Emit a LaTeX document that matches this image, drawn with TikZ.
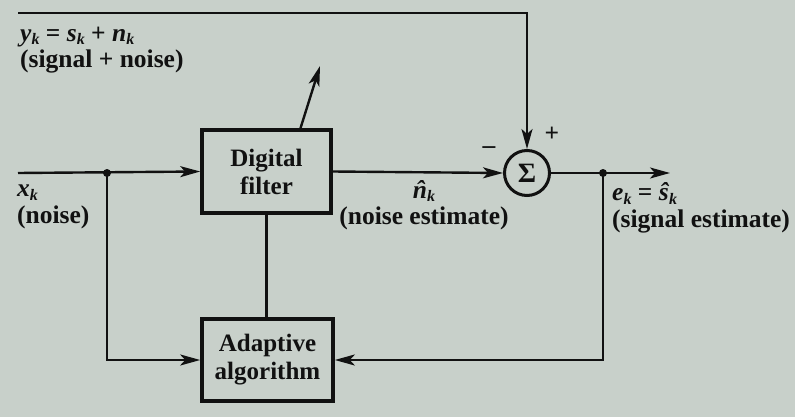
\documentclass[tikz,border=0pt]{standalone}
\usepackage{fontspec}
\setmainfont{Liberation Serif}
\usetikzlibrary{arrows.meta}
\definecolor{bg}{HTML}{C8D0CA}
\definecolor{ink}{HTML}{111111}
\newcommand\ksub{\raisebox{-0.3ex}{\fontsize{16}{16}\selectfont\textit{k}}}
\newcommand\hatn{{\itshape\ooalign{n\cr\hidewidth ˆ\hidewidth\cr}}}
\begin{document}
\begin{tikzpicture}[x=1pt,y=-1pt,
  font=\fontsize{25}{25}\selectfont\bfseries,
  every node/.style={text=ink},
  blockbox/.style={draw=ink,line width=3.6pt,inner sep=0pt,align=center,
    font=\fontsize{25}{28}\selectfont\bfseries},
  sumnode/.style={draw=ink,circle,line width=3pt,minimum size=45pt,inner sep=0pt,
    font=\fontsize{28}{28}\selectfont\bfseries},
  conn/.style={draw=ink,line width=2.4pt},
  arr/.style={conn,-{Stealth[length=20pt,width=11pt,inset=5pt]}},
  lbl/.style={inner sep=0pt,font=\fontsize{25.5}{26.5}\selectfont\bfseries},
  dotnode/.style={circle,fill=ink,inner sep=0pt,minimum size=8pt}]
\fill[bg] (0,0) rectangle (795,417);
\useasboundingbox (0,0) rectangle (795,417);

% blocks
\node[blockbox,minimum width=129pt,minimum height=83pt] (filter) at (266.5,171.5) {Digital\\filter};
\node[blockbox,minimum width=131pt,minimum height=82pt] (adapt) at (267.5,360) {Adaptive\\algorithm};
\node[sumnode] (sum) at (527,173) {Σ};

% coordinates
\coordinate (xin) at (18,173);
\coordinate (ytop) at (18,13);
\coordinate (out) at (670,173);
\coordinate (dtip) at (320,66);
\node[dotnode] (dl) at (107,173) {};
\node[dotnode] (dr) at (603,173) {};

% connectors
\draw[arr] (xin) -- (filter.west);
\draw[arr] (filter.east) -- (sum.west);
\draw[arr] (sum.east) -- (out);
\draw[arr] (ytop) -- (sum.north |- ytop) -- (sum.north);
\draw[arr] (dl.center) |- (adapt.west);
\draw[arr] (dr.center) |- (adapt.east);
\draw[conn] (filter.south) -- (filter.south |- adapt.north);
\draw[arr] ([xshift=34pt]filter.north) -- (dtip);

% labels
\node[lbl,anchor=west,align=left] (ylab) at (20,50) {\textit{y}\ksub\ =\ \textit{s}\ksub\ +\ \textit{n}\ksub\\(signal + noise)};
\node[lbl,anchor=west,align=left] (xlab) at (17,207) {\textit{x}\ksub\\(noise)};
\node[lbl,align=center] (nlab) at (424,208) {\hatn\ksub\\(noise estimate)};
\node[lbl,anchor=west,align=left] (elab) at (612,208) {\textit{e}\ksub\ =\ \textit{ŝ}\ksub\\(signal estimate)};
\node[lbl] (plus) at (552,134) {+};
\node[lbl] (minus) at (489,150) {\textendash};
\end{tikzpicture}
\end{document}
